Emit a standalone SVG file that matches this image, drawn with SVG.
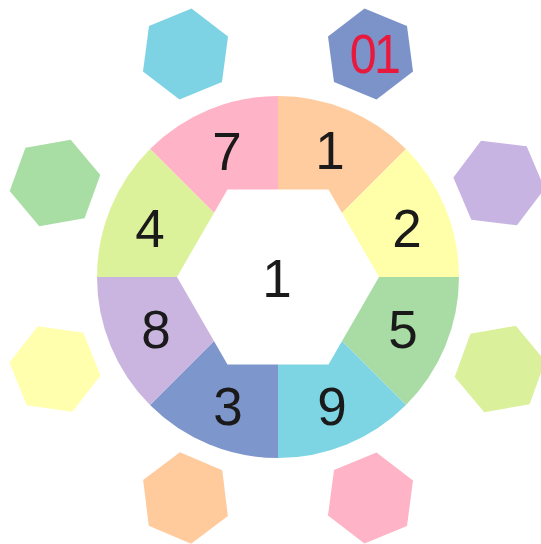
<svg xmlns="http://www.w3.org/2000/svg" width="541" height="544" viewBox="0 0 541 544">
  <style>
    .num { font-family: "Liberation Sans", Arial, sans-serif; font-size: 53px; fill: #1a1a1a; text-anchor: middle; }
    .red { font-family: "Liberation Sans", Arial, sans-serif; font-size: 55px; fill: #e8193c; text-anchor: middle; }
  </style>
  <defs>
    <polygon id="hex" points="46,0 23,39.84 -23,39.84 -46,0 -23,-39.84 23,-39.84"/>
  </defs>
  <rect width="541" height="544" fill="#ffffff"/>

  <g id="ring">
    <path id="seg7" d="M278,277 L278,96 A181,181 0 0 0 150.01,149.01 Z" fill="#ffb3c6"/>
    <path id="seg1" d="M278,277 L278,96 A181,181 0 0 1 405.99,149.01 Z" fill="#ffcc9f"/>
    <path id="seg2" d="M278,277 L405.99,149.01 A181,181 0 0 1 459,277 Z" fill="#ffffaa"/>
    <path id="seg5" d="M278,277 L459,277 A181,181 0 0 1 405.99,404.99 Z" fill="#a9dba5"/>
    <path id="seg9" d="M278,277 L405.99,404.99 A181,181 0 0 1 278,458 Z" fill="#7dd5e4"/>
    <path id="seg3" d="M278,277 L278,458 A181,181 0 0 1 150.01,404.99 Z" fill="#7d96cb"/>
    <path id="seg8" d="M278,277 L150.01,404.99 A181,181 0 0 1 97,277 Z" fill="#c9b5df"/>
    <path id="seg4" d="M278,277 L97,277 A181,181 0 0 1 150.01,149.01 Z" fill="#dcf29a"/>
    <polygon id="center" points="379,277 328.5,189.53 227.5,189.53 177,277 227.5,364.47 328.5,364.47" fill="#ffffff"/>
  </g>

  <g id="labels">
    <text class="num" x="227" y="170">7</text>
    <text class="num" x="330" y="169">1</text>
    <text class="num" x="407" y="247">2</text>
    <text class="num" x="150" y="247">4</text>
    <text class="num" x="277" y="297">1</text>
    <text class="num" x="156" y="348">8</text>
    <text class="num" x="403" y="348">5</text>
    <text class="num" x="228" y="425">3</text>
    <text class="num" x="332" y="425">9</text>
  </g>

  <g id="hex-cyan"><use href="#hex" transform="translate(185.5,54) rotate(37.5)" fill="#7dd3e3"/></g>
  <g id="hex-blue"><use href="#hex" transform="translate(370.5,54) rotate(22.5)" fill="#7b93c8"/>
    <text class="red" transform="translate(374,73) scale(0.88,1)" letter-spacing="-3">01</text></g>
  <g id="hex-green"><use href="#hex" transform="translate(55,183) rotate(50)" fill="#a8dea4"/></g>
  <g id="hex-purple"><use href="#hex" transform="translate(499,183) rotate(7)" fill="#c8b4e2"/></g>
  <g id="hex-yellow"><use href="#hex" transform="translate(55,369) rotate(8)" fill="#ffffae"/></g>
  <g id="hex-lime"><use href="#hex" transform="translate(500,369) rotate(50)" fill="#daf09a"/></g>
  <g id="hex-orange"><use href="#hex" transform="translate(185.5,498) rotate(23)" fill="#ffca9c"/></g>
  <g id="hex-pink"><use href="#hex" transform="translate(370.5,498) rotate(37.5)" fill="#ffb3c6"/></g>
</svg>
